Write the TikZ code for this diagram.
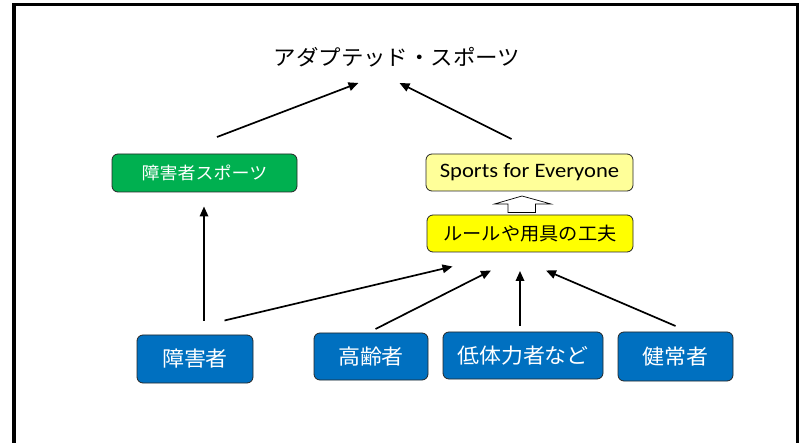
\documentclass[tikz,border=0pt]{standalone}
\usepackage{fontspec}
\newfontfamily\jp[FakeStretch=1.05]{Noto Sans CJK JP}
\newfontfamily\lat[FakeStretch=1.1]{Carlito}
\usetikzlibrary{arrows.meta}
\definecolor{boxblue}{HTML}{0070C0}
\definecolor{boxgreen}{HTML}{00B050}
\definecolor{lightyel}{HTML}{FFFF99}
\definecolor{fullyel}{HTML}{FFFF00}
\definecolor{edgegray}{HTML}{262626}
\begin{document}
\begin{tikzpicture}[x=1bp,y=-1bp,
  box/.style={draw=edgegray, line width=0.8bp, rounded corners=6bp, inner sep=0pt, align=center},
  bluebox/.style={box, fill=boxblue, text=white, font=\jp\fontsize{21}{24}\selectfont},
  conn/.style={line width=1.7bp, -{Triangle[length=10bp,width=8.5bp]}}
]
\useasboundingbox (0,0) rectangle (799,443);
% frame
\draw[line width=3.5bp] (14,470) -- (14,4.5) -- (798,4.5) -- (798,470);

% nodes
\node[font=\jp\fontsize{21.5}{24}\selectfont] (title) at (397,57) {アダプテッド・スポーツ};
\node[box, fill=boxgreen, text=white, minimum width=185bp, minimum height=38bp,
      font=\jp\fontsize{17.2}{20}\selectfont] (dsport) at (204.5,173) {障害者スポーツ};
\node[box, fill=lightyel, minimum width=207bp, minimum height=37bp,
      font=\lat\fontsize{20.6}{24}\selectfont] (sfe) at (529.5,172.5) {Sports for Everyone};
\node[box, fill=fullyel, minimum width=206bp, minimum height=37bp,
      font=\jp\fontsize{18.4}{20}\selectfont] (rule) at (530,233.5) {ルールや用具の工夫};
\node[bluebox, minimum width=116bp, minimum height=48bp] (b1) at (195,359) {障害者};
\node[bluebox, minimum width=114bp, minimum height=47bp] (b2) at (371,356.5) {高齢者};
\node[bluebox, minimum width=160bp, minimum height=47bp] (b3) at (523,355.5) {低体力者など};
\node[bluebox, minimum width=115bp, minimum height=49bp] (b4) at (675.5,356.5) {健常者};

% free connector ends
\coordinate (t1s) at (217,137);
\coordinate (t1e) at (358.5,83);
\coordinate (t2s) at (511.5,139);
\coordinate (t2e) at (399.5,83);
\coordinate (vS) at (204,321);
\coordinate (vE) at (204,206.5);
\coordinate (a1s) at (224.5,320.5);
\coordinate (a1e) at (452.5,266.5);
\coordinate (a2s) at (375.5,329);
\coordinate (a2e) at (491,270.5);
\coordinate (a3s) at (520,326);
\coordinate (a3e) at (520,271);
\coordinate (a4s) at (675.5,326);
\coordinate (a4e) at (546,270.5);

\draw[conn] (t1s) -- (t1e);
\draw[conn] (t2s) -- (t2e);
\draw[conn] (vS) -- (vE);
\draw[conn] (a1s) -- (a1e);
\draw[conn] (a2s) -- (a2e);
\draw[conn] (a3s) -- (a3e);
\draw[conn] (a4s) -- (a4e);

% hollow block arrow between rule and sfe
\draw[fill=white, line width=0.7bp, line join=miter]
  (508,212.5) -- (508,204) -- (494.5,204) -- (522,196) -- (551,204) -- (535.5,204) -- (535.5,212.5) -- cycle;
\end{tikzpicture}
\end{document}
